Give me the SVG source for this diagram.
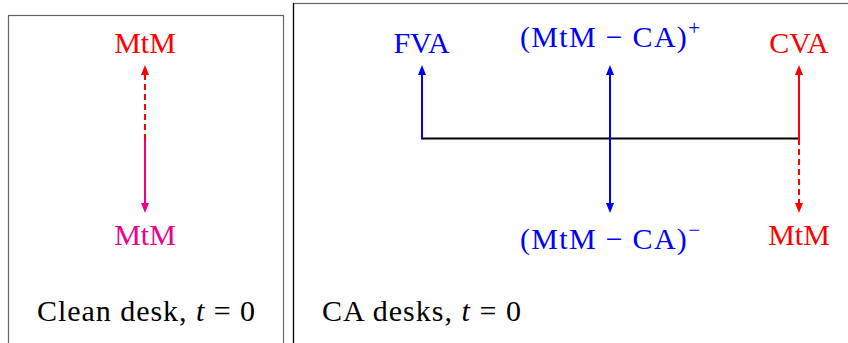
<svg xmlns="http://www.w3.org/2000/svg" width="848" height="343" viewBox="0 0 848 343">
<style>
  text { font-size: 30px; text-anchor: middle; }
  .red { fill: #ff0000; }
  .blue { fill: #0000ff; }
  .mag { fill: #ec008c; }
  .blk { fill: #000000; }
  .box { fill: none; stroke: #666666; stroke-width: 1.2; }
  .ln { fill: none; stroke-width: 2; }
  .dash { stroke-dasharray: 6 4; }
  .it { font-style: italic; }
  .sup { font-size: 21px; }
</style>
<defs>
  <marker id="ahR" markerUnits="userSpaceOnUse" markerWidth="10" markerHeight="8" refX="5" refY="4" orient="auto-start-reverse">
    <path d="M0,0 L10,4 L0,8 z" fill="#ff0000"/>
  </marker>
  <marker id="ahB" markerUnits="userSpaceOnUse" markerWidth="10" markerHeight="8" refX="5" refY="4" orient="auto-start-reverse">
    <path d="M0,0 L10,4 L0,8 z" fill="#0000ff"/>
  </marker>
  <marker id="ahM" markerUnits="userSpaceOnUse" markerWidth="10" markerHeight="8" refX="5" refY="4" orient="auto-start-reverse">
    <path d="M0,0 L10,4 L0,8 z" fill="#ec008c"/>
  </marker>
</defs>

<g font-family="Liberation Serif, DejaVu Serif, serif">
<g id="panel-clean">
  <rect class="box" x="8.5" y="15.5" width="275" height="340"/>
  <text class="blk" x="146" y="321" textLength="218" lengthAdjust="spacing">Clean desk, <tspan class="it">t</tspan> = 0</text>
</g>
<g id="panel-ca">
  <rect class="box" x="293.5" y="3.5" width="600" height="400"/>
  <line x1="293.5" y1="3" x2="293.5" y2="343" stroke="#000000" stroke-width="1.2"/>
  <text class="blk" x="421.5" y="321" textLength="199" lengthAdjust="spacing">CA desks, <tspan class="it">t</tspan> = 0</text>
</g>

<g id="node-mtm-top-left"><text class="red" x="145" y="53">MtM</text></g>
<g id="node-mtm-bottom-left"><text class="mag" x="145" y="245">MtM</text></g>
<g id="node-fva"><text class="blue" x="421.5" y="53">FVA</text></g>
<g id="node-mtm-ca-plus"><text class="blue" x="610" y="47" textLength="180" lengthAdjust="spacing">(MtM − CA)<tspan class="sup" dy="-12">+</tspan></text></g>
<g id="node-cva"><text class="red" x="799" y="53">CVA</text></g>
<g id="node-mtm-ca-minus"><text class="blue" x="610" y="249" textLength="180" lengthAdjust="spacing">(MtM − CA)<tspan class="sup" dy="-12">−</tspan></text></g>
<g id="node-mtm-right"><text class="red" x="799" y="245">MtM</text></g>
</g>

<g id="connectors">
  <line class="ln dash" stroke="#ff0000" x1="145" y1="140" x2="145" y2="70" marker-end="url(#ahR)"/>
  <line class="ln" stroke="#ec008c" x1="145" y1="140" x2="145" y2="208" marker-end="url(#ahM)"/>
  <line class="ln" stroke="#000000" x1="422" y1="138.5" x2="799" y2="138.5"/>
  <polyline class="ln" stroke="#0000ff" points="423,138.5 422,138.5 422,70" marker-end="url(#ahB)"/>
  <line class="ln" stroke="#0000ff" x1="610" y1="70" x2="610" y2="208" marker-start="url(#ahB)" marker-end="url(#ahB)"/>
  <line class="ln" stroke="#ff0000" x1="799" y1="139" x2="799" y2="70" marker-end="url(#ahR)"/>
  <line class="ln dash" stroke="#ff0000" x1="799" y1="139" x2="799" y2="208" marker-end="url(#ahR)"/>
</g>
</svg>
